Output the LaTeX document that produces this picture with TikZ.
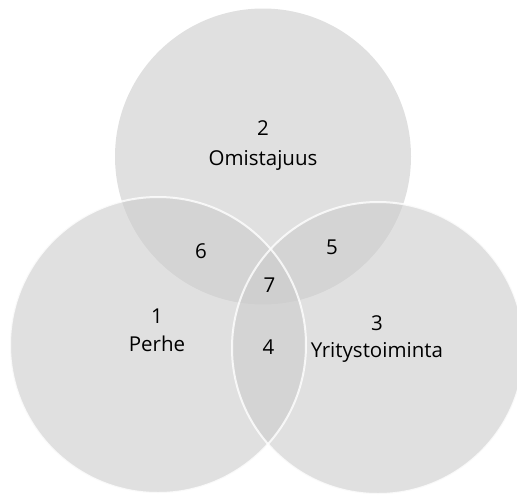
\documentclass[tikz,border=0pt]{standalone}
\usepackage{fontspec}
\setmainfont{Open Sans}
\usepackage{tikz}

\begin{document}
\begin{tikzpicture}[x = 1pt, y = -1pt,
  venn/.style = {circle, inner sep = 0pt, minimum size = 296pt, fill = black!20, fill opacity = 0.6},
  rim/.style = {white, line width = 2pt, draw opacity = 0.8},
  lbl/.style = {font = \fontsize{20.5}{29}\selectfont, anchor = base, inner sep = 0pt}]
\useasboundingbox (0,0) rectangle (517,496);
\clip (0,0) rectangle (517,496);

\node[venn] (omistajuus) at (263,156.5) {};
\node[venn] (perhe) at (158,345) {};
\node[venn, minimum size = 292pt] (yritys) at (378,348) {};
\draw[rim] (perhe.center) circle[radius = 148pt];
\draw[rim] (yritys.center) circle[radius = 146pt];

\node[lbl] (n2) at (263,135.5) {2};
\node[lbl] (t2) at (263,165.5) {Omistajuus};
\node[lbl] (n1) at (157,323) {1};
\node[lbl] (t1) at (157,351.5) {Perhe};
\node[lbl] (n3) at (377,330.5) {3};
\node[lbl] (t3) at (377,357) {Yritystoiminta};
\node[lbl] (n6) at (201,258) {6};
\node[lbl] (n5) at (332,254.5) {5};
\node[lbl] (n7) at (269.5,292.5) {7};
\node[lbl] (n4) at (268.5,354.5) {4};
\end{tikzpicture}
\end{document}
